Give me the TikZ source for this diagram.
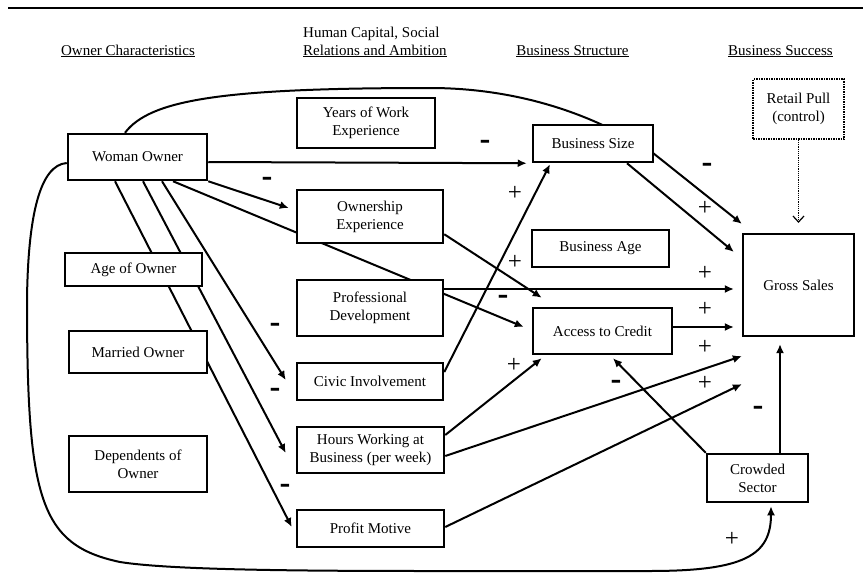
\documentclass[tikz,border=0pt]{standalone}
\usepackage{fontspec}
\setmainfont{Liberation Serif}
\setsansfont{Liberation Sans}
\usetikzlibrary{arrows.meta,backgrounds}
\newcommand{\mns}{\scalebox{1.05}[1.8]{\sffamily\bfseries\fontsize{16}{16}\selectfont –}}
\begin{document}
\begin{tikzpicture}[x=1pt,y=-1pt,
  box/.style={draw, line width=2.5pt, fill=white, inner sep=0pt, align=center, font=\fontsize{15}{18}\selectfont},
  conn/.style={line width=2pt, -{Latex[length=9pt,width=8pt]}},
  plusl/.style={font=\fontsize{25}{25}\selectfont, inner sep=0pt},
  minusl/.style={inner sep=0pt},
  head/.style={font=\fontsize{15}{18}\selectfont, inner sep=0pt}]
\useasboundingbox (0,0) rectangle (863,581);
\draw[line width=2pt] (8,8) -- (863,8);

% headings
\node[head, anchor=base] (h1) at (128,55) {\underline{Owner Characteristics}};
\node[head, anchor=north west, align=left] (h2) at (303,26.5) {Human Capital, Social\\\underline{Relations and Ambition}};
\node[head, anchor=base] (h3) at (572.5,55) {\underline{Business Structure}};
\node[head, anchor=base] (h4) at (780.5,55) {\underline{Business Success}};

% boxes
\node[box, minimum width=139, minimum height=46] (wo) at (137.5,157) {Woman Owner};
\node[box, minimum width=137, minimum height=33] (age) at (133.5,269.5) {Age of Owner};
\node[box, minimum width=138, minimum height=42] (mar) at (138,352) {Married Owner};
\node[box, minimum width=138, minimum height=56] (dep) at (138,464) {Dependents of\\Owner};
\node[box, minimum width=138, minimum height=50] (yrs) at (366,123) {Years of Work\\Experience};
\node[box, minimum width=146, minimum height=53] (own) at (370,216.5) {Ownership\\Experience};
\node[box, minimum width=146, minimum height=56] (pro) at (370,308) {Professional\\Development};
\node[box, minimum width=146, minimum height=37] (civ) at (370,381.5) {Civic Involvement};
\node[box, minimum width=147, minimum height=46] (hrs) at (370.5,450) {Hours Working at\\Business (per week)};
\node[box, minimum width=147, minimum height=37] (prof) at (370.5,528.5) {Profit Motive};
\node[box, minimum width=120, minimum height=37] (bsize) at (593,143.5) {Business Size};
\node[box, minimum width=137, minimum height=37] (bage) at (600.5,248.5) {Business Age};
\node[box, minimum width=139, minimum height=46] (acc) at (602.5,331) {Access to Credit};
\node[box, line width=2.2pt, minimum width=111, minimum height=102] (gs) at (798.5,285) {Gross Sales};
\node[box, line width=1.5pt, densely dotted, minimum width=91, minimum height=60] (rp) at (798.5,109) {Retail Pull\\(control)};
\node[box, minimum width=101, minimum height=48] (cs) at (757.5,478) {Crowded\\Sector};

% connectors
\begin{scope}[on background layer]
\draw[conn] ([yshift=-5pt]wo.east) -- ([xshift=-5pt]bsize.south west);
\draw[conn] (wo.south east) -- ([xshift=-7pt,yshift=8.5pt]own.west);
\draw[conn] ([xshift=35.5pt]wo.south) -- ([xshift=-8pt,yshift=4pt]acc.west);
\draw[conn] ([yshift=10pt]own.south east) -- ([xshift=10pt,yshift=9pt]acc.north west);
\draw[conn] ([yshift=19pt]pro.east) -- ([xshift=-8pt,yshift=-4pt]gs.west);
\draw[conn] ([yshift=4pt]acc.east) -- ([xshift=-8pt,yshift=-42pt]gs.west);
\draw[conn] ([xshift=34pt]bsize.south) -- ([xshift=-8pt,yshift=-19pt]gs.north west);
\draw[conn] ([xshift=-12.5pt]wo.north) .. controls (150,100) and (220,88) .. (430,88)
   .. controls (500,88) and (580,105) .. (653,153) -- ([yshift=9pt]gs.north west);
\draw[conn] ([yshift=9.5pt]civ.east) -- ([xshift=-43pt,yshift=-1pt]bsize.south);
\draw[conn] ([yshift=15pt]hrs.east) -- ([xshift=10pt,yshift=-3pt]acc.south west);
\draw[conn] ([yshift=-6pt]hrs.east) -- ([yshift=-19pt]gs.south west);
\draw[conn] ([yshift=1.5pt]prof.east) -- ([yshift=-47pt]gs.south west);
\draw[conn] (cs.north west) -- ([xshift=10.5pt,yshift=-3pt]acc.south);
\draw[conn] ([xshift=22.5pt]cs.north) -- ([xshift=-18.5pt,yshift=-7pt]gs.south);
\draw[line width=1.2pt, densely dotted, -{Straight Barb[length=6pt,width=11pt]}] (rp.south) -- ([yshift=10pt]gs.north);
\draw[conn] ([xshift=24.5pt]wo.south) -- ([xshift=-10pt,yshift=1.5pt]civ.west);
\draw[conn] ([xshift=5.5pt]wo.south) -- ([xshift=-10pt,yshift=-3pt]hrs.west);
\draw[conn] ([xshift=-22.5pt]wo.south) -- ([xshift=-4pt,yshift=1.5pt]prof.west);
\draw[conn] ([yshift=-6pt]wo.west) .. controls (40,165) and (28,215) .. (27,300)
   .. controls (27,500) and (40,545) .. (120,562)
   .. controls (170,570) and (300,571) .. (430,571)
   -- (650,571) .. controls (745,571) and (771,555) .. ([xshift=13.5pt,yshift=-3pt]cs.south);
\end{scope}

% signs
\node[minusl] (m1) at (485,145) {\mns};
\node[minusl] (m2) at (267,182) {\mns};
\node[minusl] (m3) at (503,300) {\mns};
\node[minusl] (m4) at (707,168) {\mns};
\node[minusl] (m5) at (275,328) {\mns};
\node[minusl] (m6) at (275,393) {\mns};
\node[minusl] (m7) at (285,489) {\mns};
\node[minusl] (m8) at (616,385) {\mns};
\node[minusl] (m9) at (758,411) {\mns};
\node[plusl] (p1) at (515,193) {+};
\node[plusl] (p2) at (515,262) {+};
\node[plusl] (p3) at (514,365) {+};
\node[plusl] (p4) at (705,208) {+};
\node[plusl] (p5) at (705,273) {+};
\node[plusl] (p6) at (705,309) {+};
\node[plusl] (p7) at (705,347) {+};
\node[plusl] (p8) at (705,383) {+};
\node[plusl] (p9) at (732,539) {+};
\end{tikzpicture}
\end{document}
